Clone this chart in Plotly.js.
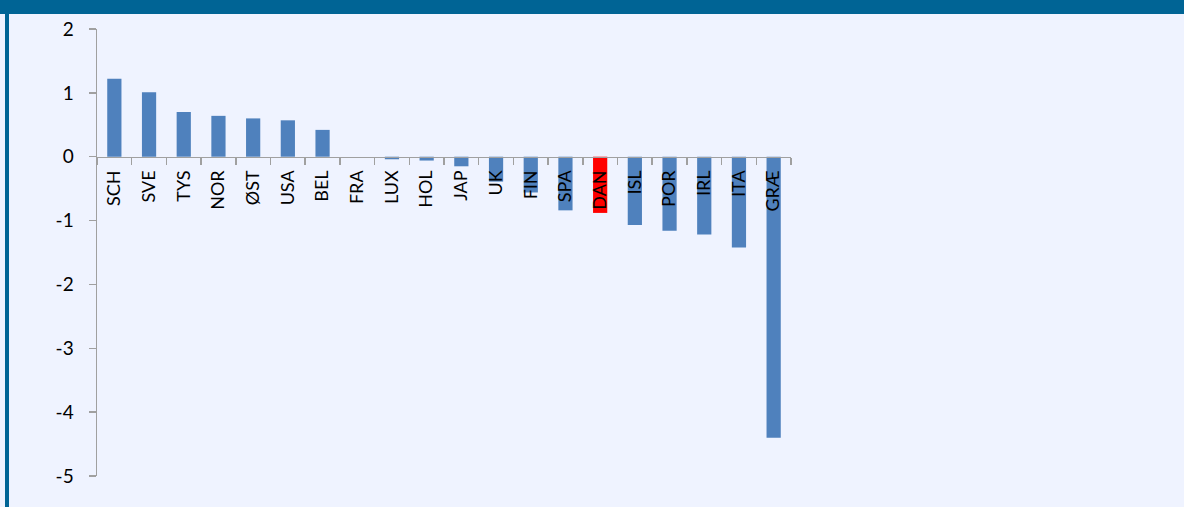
<!DOCTYPE html>
<html>
<head>
<meta charset="utf-8">
<script src="https://cdn.plot.ly/plotly-3.0.1.min.js"></script>
<style>
  html, body { margin: 0; padding: 0; background: #eff3ff; }
  #chart { width: 1184px; height: 507px; }
</style>
</head>
<body>
<div id="chart"></div>
<script>
// ---- data ----
const countries = ["SCH","SVE","TYS","NOR","ØST","USA","BEL","FRA","LUX","HOL","JAP","UK","FIN","SPA","DAN","ISL","POR","IRL","ITA","GRÆ"];
const values = [1.22, 1.01, 0.70, 0.64, 0.60, 0.57, 0.42, 0.0, -0.04, -0.06, -0.15, -0.39, -0.56, -0.84, -0.88, -1.07, -1.16, -1.22, -1.42, -4.40];
const highlight = "DAN";
const yTickVals = [2, 1, 0, -1, -2, -3, -4, -5];
const yTickText = ["2", "1", "0", "-1", "-2", "-3", "-4", "-5"];

// ---- styling ----
const W = 1184, H = 507;
const M = {l: 97, r: 393, t: 29, b: 31};
const pw = W - M.l - M.r, ph = H - M.t - M.b;
const px = x => (x - M.l) / pw;
const py = y => (H - M.b - y) / ph;
const barColor = "#4f81bd", hiColor = "#ff0000";
const frame = "#006495";
const axisGray = "#a0a0a0";
const font = "Lato, 'Open Sans', sans-serif";

const colors = countries.map(c => c === highlight ? hiColor : barColor);

const trace = {
  type: "bar",
  x: countries,
  y: values,
  marker: {color: colors, line: {width: 0}},
  hoverinfo: "x+y"
};

const layout = {
  width: W, height: H,
  margin: M,
  paper_bgcolor: "#eff3ff",
  plot_bgcolor: "rgba(0,0,0,0)",
  showlegend: false,
  bargap: 0.59,
  font: {family: font, size: 18, color: "#000"},
  xaxis: {
    type: "category",
    anchor: "free",
    position: 5 / 7,
    showline: true, linecolor: axisGray, linewidth: 1.5,
    ticks: "outside", tickson: "boundaries", ticklen: 7, tickcolor: axisGray, tickwidth: 1.5,
    tickangle: -90,
    tickfont: {family: font, size: 18, color: "#000"},
    ticklabelstandoff: 5,
    showgrid: false, zeroline: false,
    fixedrange: true
  },
  yaxis: {
    range: [-5, 2],
    tickvals: yTickVals, ticktext: yTickText,
    showline: true, linecolor: axisGray, linewidth: 1.5,
    ticks: "outside", ticklen: 7, tickcolor: axisGray, tickwidth: 1.5,
    tickfont: {family: font, size: 19, color: "#000"},
    ticklabelstandoff: 11,
    showgrid: false, zeroline: false,
    fixedrange: true
  },
  shapes: [
    {type: "rect", xref: "paper", yref: "paper", x0: px(0), x1: px(W), y0: py(14), y1: py(0),
     fillcolor: frame, line: {width: 0}, layer: "above"},
    {type: "rect", xref: "paper", yref: "paper", x0: px(5), x1: px(9), y0: py(H), y1: py(0),
     fillcolor: frame, line: {width: 0}, layer: "above"}
  ]
};

Plotly.newPlot("chart", [trace], layout, {displayModeBar: false, staticPlot: true});
</script>
</body>
</html>
